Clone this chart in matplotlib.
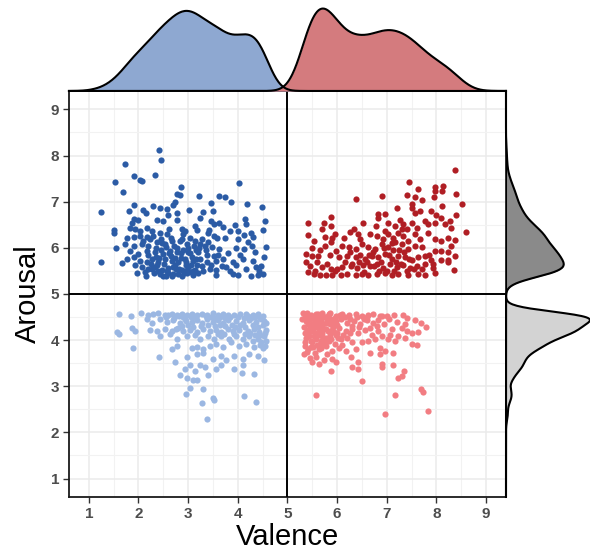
import numpy as np
import matplotlib.pyplot as plt
from matplotlib.ticker import MultipleLocator

plt.rcParams['font.family'] = ['Liberation Sans', 'DejaVu Sans']

# (valence, arousal) pairs, one list per quadrant
high_negative = [
    (2.41, 8.13), (2.45, 7.91), (1.72, 7.81), (2.33, 7.58), (1.90, 7.55), (2.03, 7.47), (2.07, 7.45),
    (1.53, 7.42), (1.69, 7.22), (4.02, 7.40), (2.85, 7.31), (2.77, 7.17), (2.83, 7.15), (3.21, 7.13),
    (3.63, 7.13), (3.75, 7.11), (3.87, 7.00), (3.47, 6.98), (4.18, 6.96), (4.48, 6.89), (1.25, 6.77),
    (1.90, 6.93), (1.80, 6.79), (2.73, 7.00), (2.70, 6.92), (2.30, 6.90), (2.43, 6.86), (2.58, 6.85),
    (2.10, 6.83), (2.15, 6.76), (3.02, 6.81), (3.30, 6.78), (3.50, 6.79), (2.59, 6.72), (2.77, 6.76),
    (1.90, 6.63), (2.00, 6.61), (1.87, 6.54), (2.37, 6.61), (2.50, 6.58), (2.77, 6.61), (3.23, 6.65),
    (3.13, 6.47), (3.45, 6.59), (3.53, 6.52), (3.62, 6.54), (4.15, 6.63), (4.17, 6.52), (4.55, 6.58),
    (1.50, 6.38), (1.50, 6.33), (1.83, 6.44), (1.93, 6.40), (2.03, 6.36), (2.17, 6.44), (2.27, 6.36),
    (2.43, 6.33), (2.57, 6.29), (2.87, 6.40), (2.93, 6.36), (2.90, 6.29), (3.18, 6.38), (3.40, 6.33),
    (3.42, 6.38), (3.59, 6.21), (3.75, 6.21), (3.85, 6.36), (4.00, 6.36), (4.00, 6.19), (4.13, 6.28),
    (4.27, 6.33), (4.30, 6.24), (4.50, 6.38), (1.77, 6.22), (1.90, 6.24), (2.03, 6.26), (2.17, 6.24),
    (2.23, 6.19), (1.73, 6.08), (1.90, 6.05), (2.07, 6.08), (2.20, 6.05), (2.37, 6.12), (2.53, 6.08),
    (2.67, 6.15), (2.83, 6.15), (2.97, 6.08), (3.13, 6.15), (3.23, 6.08), (3.33, 6.05), (3.40, 6.12),
    (1.55, 5.99), (3.63, 5.97), (3.97, 5.99), (4.13, 5.97), (4.29, 6.05), (4.57, 6.01), (1.83, 5.94),
    (2.00, 5.87), (2.17, 5.94), (2.33, 5.90), (2.50, 5.87), (2.63, 5.94), (2.77, 5.90), (2.90, 5.95),
    (3.03, 5.88), (3.20, 5.90), (3.37, 5.85), (3.53, 5.83), (1.25, 5.70), (1.67, 5.67), (1.77, 5.76),
    (1.90, 5.81), (2.03, 5.72), (2.17, 5.69), (2.27, 5.76), (2.40, 5.69), (2.53, 5.76), (2.67, 5.72),
    (2.80, 5.69), (2.93, 5.76), (3.10, 5.71), (3.23, 5.76), (3.37, 5.69), (3.57, 5.72), (3.70, 5.76),
    (3.90, 5.69), (4.10, 5.76), (4.30, 5.72), (4.52, 5.81), (1.93, 5.62), (2.07, 5.58), (2.20, 5.55),
    (2.33, 5.58), (2.47, 5.51), (2.60, 5.57), (2.73, 5.62), (2.87, 5.53), (3.00, 5.58), (3.13, 5.51),
    (3.27, 5.60), (3.43, 5.55), (3.57, 5.51), (3.77, 5.58), (3.97, 5.62), (4.17, 5.55), (4.37, 5.58),
    (4.47, 5.60), (1.97, 5.45), (2.13, 5.48), (2.43, 5.44), (2.50, 5.38), (2.70, 5.44), (2.80, 5.43),
    (2.97, 5.45), (3.10, 5.41), (3.57, 5.41), (3.90, 5.43), (4.00, 5.41), (4.27, 5.38), (4.40, 5.41),
    (4.50, 5.43), (2.25, 5.65), (2.35, 5.80), (2.45, 5.95), (2.55, 6.02), (2.60, 5.45), (2.65, 5.83),
    (2.72, 6.05), (2.75, 5.55), (2.85, 5.78), (2.88, 6.20), (2.95, 5.62), (3.00, 6.00), (3.05, 5.48),
    (3.08, 5.80), (3.15, 5.95), (3.18, 5.62), (3.28, 6.20), (3.30, 5.50), (3.35, 5.95), (3.45, 5.62),
    (3.48, 6.02), (3.52, 6.25), (3.60, 5.85), (3.68, 5.60), (3.80, 5.88), (3.85, 5.50), (4.05, 5.85),
    (4.20, 6.12), (4.35, 5.90), (4.42, 5.50), (2.20, 5.85), (2.10, 6.15), (2.30, 6.25), (2.62, 6.40),
    (2.40, 5.50), (2.15, 5.40), (3.95, 6.50), (3.70, 6.45), (2.32, 5.45), (2.38, 5.62), (2.42, 5.78),
    (2.48, 6.10), (2.52, 5.65), (2.58, 5.50), (2.62, 5.88), (2.66, 6.22), (2.70, 5.58), (2.74, 5.78),
    (2.78, 6.00), (2.82, 5.55), (2.86, 5.88), (2.92, 5.45), (2.96, 5.70), (3.00, 5.90), (3.04, 6.22),
    (3.06, 5.62), (3.10, 5.50), (3.12, 6.05), (3.16, 5.75), (3.20, 5.45), (3.22, 6.00), (2.55, 5.40),
    (2.68, 5.40), (2.88, 5.40), (2.98, 5.52), (2.45, 6.20), (2.35, 6.00), (2.28, 5.55),
]

high_positive = [
    (8.37, 7.68), (7.45, 7.42), (7.97, 7.32), (8.13, 7.35), (8.11, 7.23), (7.97, 7.23), (7.62, 7.27),
    (7.40, 7.15), (7.57, 7.11), (7.70, 7.04), (6.37, 7.06), (6.90, 7.13), (8.40, 7.17), (7.95, 7.10),
    (8.52, 6.95), (8.12, 6.91), (7.20, 6.86), (7.50, 6.86), (7.57, 6.76), (7.67, 6.79), (7.90, 6.79),
    (8.00, 6.72), (6.83, 6.73), (6.97, 6.73), (6.83, 6.65), (5.88, 6.66), (8.40, 6.72), (5.41, 6.53),
    (5.73, 6.53), (5.87, 6.47), (5.70, 6.40), (6.53, 6.54), (6.78, 6.47), (7.03, 6.54), (7.17, 6.47),
    (7.27, 6.61), (7.33, 6.51), (7.40, 6.40), (7.50, 6.54), (7.60, 6.44), (7.77, 6.58), (7.83, 6.51),
    (7.97, 6.54), (8.10, 6.65), (8.17, 6.51), (8.27, 6.59), (8.30, 6.44), (8.60, 6.35), (5.41, 6.28),
    (5.53, 6.15), (5.75, 6.24), (5.89, 6.21), (5.87, 6.12), (6.13, 6.22), (6.25, 6.35), (6.33, 6.40),
    (6.43, 6.29), (6.47, 6.19), (6.67, 6.29), (6.80, 6.26), (6.97, 6.37), (7.03, 6.29), (7.13, 6.22),
    (7.23, 6.33), (7.33, 6.26), (7.43, 6.15), (7.57, 6.29), (7.67, 6.19), (7.83, 6.33), (7.97, 6.19),
    (8.10, 6.15), (8.23, 6.22), (8.37, 6.17), (8.30, 6.05), (5.97, 5.94), (6.10, 6.05), (6.23, 6.01),
    (6.37, 5.97), (6.50, 6.08), (6.63, 6.01), (6.77, 5.97), (6.90, 6.08), (7.03, 6.01), (7.17, 6.12),
    (7.30, 6.08), (7.43, 5.97), (7.57, 6.05), (7.70, 6.01), (7.97, 5.94), (8.10, 5.94), (8.23, 5.90),
    (5.38, 5.87), (5.50, 5.83), (5.62, 5.83), (6.03, 5.80), (6.20, 5.83), (6.37, 5.80), (6.47, 5.85),
    (6.57, 5.76), (6.70, 5.83), (6.83, 5.80), (6.97, 5.87), (7.10, 5.76), (7.23, 5.83), (7.37, 5.80),
    (7.50, 5.73), (7.63, 5.80), (7.77, 5.83), (7.90, 5.73), (8.10, 5.73), (8.23, 5.73), (8.37, 5.83),
    (5.38, 5.69), (5.70, 5.58), (5.87, 5.55), (6.10, 5.58), (6.27, 5.60), (6.40, 5.57), (6.53, 5.62),
    (6.67, 5.60), (6.80, 5.65), (6.93, 5.57), (7.07, 5.64), (7.20, 5.58), (7.33, 5.62), (7.47, 5.57),
    (7.60, 5.60), (7.77, 5.64), (7.93, 5.65), (8.23, 5.69), (8.35, 5.53), (5.41, 5.48), (5.53, 5.44),
    (5.65, 5.42), (5.77, 5.41), (5.90, 5.41), (6.07, 5.41), (6.20, 5.44), (6.37, 5.41), (6.50, 5.44),
    (6.63, 5.41), (6.80, 5.43), (6.97, 5.45), (7.10, 5.41), (7.23, 5.44), (7.43, 5.42), (7.63, 5.44),
    (7.77, 5.41), (7.97, 5.45), (7.93, 5.57), (6.60, 5.70), (6.72, 5.90), (6.85, 5.50), (6.88, 5.70),
    (6.95, 6.00), (7.00, 5.50), (7.05, 5.85), (7.12, 5.95), (7.15, 5.50), (7.18, 5.70), (7.25, 5.95),
    (7.28, 5.65), (7.35, 5.90), (7.40, 5.50), (7.45, 5.75), (6.75, 5.60), (6.65, 5.85), (6.55, 5.48),
    (6.45, 5.70), (6.30, 5.65), (6.25, 5.90), (6.15, 5.70), (6.00, 5.55), (7.55, 5.55), (7.70, 5.55),
    (7.85, 5.85), (7.10, 6.10), (6.92, 6.20), (7.30, 6.40), (7.50, 6.95), (5.45, 5.60), (5.55, 5.50),
    (5.60, 5.70), (5.65, 5.95), (5.80, 5.65), (5.85, 5.85), (5.95, 5.50), (5.50, 6.00), (5.75, 6.05),
    (5.95, 6.30),
]

low_negative = [
    (1.60, 4.57), (1.85, 4.53), (2.05, 4.59), (2.20, 4.55), (2.30, 4.57), (2.40, 4.59), (2.53, 4.55),
    (2.67, 4.57), (2.77, 4.55), (2.87, 4.57), (2.97, 4.55), (3.07, 4.57), (3.17, 4.55), (3.27, 4.57),
    (3.37, 4.55), (3.50, 4.59), (3.60, 4.55), (3.70, 4.57), (3.80, 4.55), (4.17, 4.57), (4.30, 4.55),
    (4.40, 4.57), (4.50, 4.53), (2.17, 4.45), (2.27, 4.37), (2.43, 4.45), (2.57, 4.39), (2.70, 4.43),
    (2.83, 4.37), (2.93, 4.45), (3.07, 4.39), (3.17, 4.43), (3.27, 4.37), (3.37, 4.45), (3.50, 4.39),
    (3.60, 4.43), (3.70, 4.37), (3.80, 4.43), (3.97, 4.41), (4.10, 4.37), (4.23, 4.43), (4.37, 4.39),
    (4.47, 4.45), (4.57, 4.37), (1.87, 4.27), (1.93, 4.20), (1.57, 4.18), (1.60, 4.14), (2.23, 4.23),
    (2.37, 4.20), (2.53, 4.25), (2.67, 4.20), (2.80, 4.27), (2.90, 4.20), (3.03, 4.23), (3.17, 4.18),
    (3.30, 4.25), (3.43, 4.20), (3.57, 4.23), (3.67, 4.18), (3.80, 4.25), (3.90, 4.20), (4.03, 4.23),
    (4.20, 4.20), (4.33, 4.25), (4.43, 4.18), (4.57, 4.22), (2.43, 4.09), (2.63, 4.13), (2.77, 4.02),
    (2.97, 4.08), (3.13, 4.10), (3.23, 4.02), (3.40, 4.09), (3.53, 4.03), (3.67, 4.08), (3.83, 4.02),
    (3.97, 4.09), (4.10, 4.03), (4.23, 4.08), (4.40, 4.02), (4.53, 4.09), (4.57, 3.98), (1.88, 3.82),
    (2.67, 3.81), (2.77, 3.88), (3.07, 3.82), (3.17, 3.84), (3.30, 3.81), (3.43, 3.88), (3.57, 3.91),
    (3.70, 3.84), (3.87, 3.95), (4.03, 3.88), (4.17, 3.91), (4.33, 3.84), (4.47, 3.95), (4.50, 3.82),
    (2.42, 3.63), (2.73, 3.52), (2.97, 3.63), (3.17, 3.70), (3.30, 3.72), (3.50, 3.59), (3.67, 3.66),
    (3.77, 3.56), (3.93, 3.66), (4.10, 3.59), (4.23, 3.70), (4.40, 3.66), (4.53, 3.56), (2.93, 3.38),
    (3.03, 3.45), (3.13, 3.34), (3.23, 3.46), (3.33, 3.41), (3.57, 3.38), (3.67, 3.45), (3.93, 3.38),
    (4.10, 3.45), (2.83, 3.25), (2.97, 3.18), (3.10, 3.13), (3.17, 3.13), (3.40, 3.24), (4.09, 3.29),
    (4.33, 3.27), (3.03, 2.97), (3.30, 2.94), (2.95, 2.83), (3.50, 2.75), (3.53, 2.70), (3.27, 2.63),
    (4.13, 2.78), (4.37, 2.65), (3.37, 2.30), (3.45, 4.50), (3.55, 4.48), (3.65, 4.50), (3.75, 4.48),
    (3.85, 4.50), (3.92, 4.55), (4.00, 4.50), (4.05, 4.57), (4.12, 4.48), (4.20, 4.52), (4.27, 4.48),
    (4.35, 4.50), (4.45, 4.48), (4.52, 4.42), (3.40, 4.32), (3.55, 4.30), (3.65, 4.32), (3.75, 4.30),
    (3.88, 4.32), (3.95, 4.28), (4.05, 4.33), (4.15, 4.28), (4.30, 4.32), (4.40, 4.28), (4.50, 4.32),
    (4.55, 4.15), (4.45, 4.10), (4.35, 4.12), (4.25, 4.15), (4.15, 4.13), (3.72, 4.13), (3.60, 4.13),
    (3.92, 4.13), (4.45, 3.90), (4.30, 3.98), (4.55, 3.88), (3.35, 4.52), (3.12, 4.50), (2.90, 4.50),
    (3.00, 4.32), (3.25, 4.30), (2.55, 4.50), (2.60, 4.55), (2.72, 4.48), (2.82, 4.52), (2.95, 4.42),
    (3.05, 4.50), (3.10, 4.28), (2.88, 4.30), (2.75, 4.25),
]

low_positive = [
    (5.43, 4.53), (5.57, 4.57), (5.70, 4.55), (5.83, 4.57), (5.97, 4.53), (6.10, 4.57), (6.23, 4.55),
    (6.37, 4.57), (6.50, 4.53), (6.63, 4.55), (6.73, 4.57), (6.87, 4.52), (7.00, 4.52), (7.15, 4.55),
    (7.33, 4.55), (7.40, 4.48), (5.40, 4.41), (5.53, 4.45), (5.67, 4.37), (5.80, 4.43), (5.93, 4.39),
    (6.07, 4.45), (6.20, 4.37), (6.33, 4.41), (6.47, 4.36), (6.60, 4.43), (6.73, 4.37), (6.83, 4.43),
    (6.80, 4.30), (7.37, 4.34), (7.57, 4.43), (7.69, 4.37), (7.79, 4.29), (5.40, 4.23), (5.50, 4.27),
    (5.63, 4.20), (5.77, 4.25), (5.90, 4.22), (6.03, 4.27), (6.17, 4.20), (6.30, 4.25), (6.43, 4.16),
    (6.57, 4.23), (6.67, 4.27), (6.83, 4.20), (7.07, 4.10), (7.11, 4.25), (7.30, 4.27), (7.40, 4.20),
    (7.63, 4.18), (7.50, 4.16), (5.43, 4.09), (5.57, 4.02), (5.70, 4.08), (5.83, 3.98), (5.97, 4.10),
    (6.07, 4.02), (6.20, 4.05), (6.30, 3.96), (6.50, 3.95), (6.63, 3.98), (6.77, 4.02), (6.90, 4.08),
    (7.03, 4.03), (7.17, 3.98), (7.23, 4.08), (7.37, 4.05), (7.50, 3.91), (7.60, 3.89), (5.47, 3.84),
    (5.63, 3.81), (5.77, 3.88), (5.90, 3.77), (6.03, 3.82), (6.17, 3.77), (6.37, 3.81), (6.67, 3.73),
    (6.87, 3.82), (6.97, 3.77), (7.13, 3.73), (6.87, 3.70), (5.57, 3.63), (5.50, 3.52), (5.63, 3.49),
    (5.73, 3.56), (5.90, 3.59), (5.97, 3.52), (6.27, 3.63), (6.43, 3.52), (6.90, 3.49), (7.13, 3.45),
    (6.30, 3.41), (6.43, 3.38), (5.87, 3.34), (6.90, 3.41), (7.35, 3.32), (7.30, 3.22), (7.23, 3.17),
    (6.50, 3.11), (7.69, 2.95), (7.73, 2.87), (5.57, 2.81), (7.17, 2.80), (7.83, 2.47), (6.97, 2.40),
    (5.35, 4.50), (5.45, 4.45), (5.50, 4.35), (5.60, 4.48), (5.65, 4.30), (5.75, 4.50), (5.85, 4.35),
    (5.95, 4.48), (6.00, 4.32), (6.15, 4.50), (6.25, 4.45), (6.30, 4.30), (6.40, 4.50), (6.55, 4.46),
    (5.35, 4.15), (5.45, 4.30), (5.55, 4.15), (5.70, 4.15), (5.85, 4.12), (6.00, 4.15), (6.12, 4.12),
    (6.25, 4.15), (5.35, 3.95), (5.50, 3.95), (5.65, 3.92), (5.75, 4.00), (5.95, 3.92), (6.10, 3.90),
    (5.40, 3.75), (5.55, 3.72), (5.80, 3.70), (6.90, 4.52), (6.95, 4.35), (7.05, 4.45), (7.20, 4.40),
    (6.70, 4.10), (6.60, 4.50), (6.45, 4.28), (5.32, 4.58), (5.38, 4.42), (5.42, 4.35), (5.48, 4.55),
    (5.52, 4.20), (5.58, 4.40), (5.62, 4.56), (5.68, 4.45), (5.72, 4.25), (5.78, 4.38), (5.82, 4.52),
    (5.88, 4.45), (5.92, 4.28), (5.33, 4.28), (5.37, 4.05), (5.44, 4.18), (5.47, 3.98), (5.53, 4.08),
    (5.58, 4.28), (5.63, 4.12), (5.67, 3.98), (5.72, 4.35), (5.78, 4.05), (5.82, 4.20), (5.88, 4.02),
    (5.93, 4.18), (5.36, 3.88), (5.42, 3.80), (5.52, 3.85), (5.60, 3.90), (5.68, 3.82), (5.75, 3.92),
    (5.30, 4.45), (5.40, 4.58), (5.55, 4.50), (5.65, 4.40), (5.70, 4.58), (5.85, 4.58), (5.90, 4.38),
    (5.98, 4.42), (6.05, 4.55), (6.02, 4.05), (5.33, 3.70), (5.46, 3.62), (5.38, 4.48),
]

ticks = [1, 2, 3, 4, 5, 6, 7, 8, 9]


def density(values, grid):
    # gaussian kernel density with R's default (nrd0) bandwidth
    v = np.asarray(values)
    n = len(v)
    iqr = np.percentile(v, 75) - np.percentile(v, 25)
    bw = 0.9 * min(v.std(ddof=1), iqr / 1.34) * n ** -0.2
    z = (grid[:, None] - v[None, :]) / bw
    return np.exp(-0.5 * z ** 2).sum(axis=1) / (n * bw * np.sqrt(2 * np.pi))


hn = np.array(high_negative)
hp = np.array(high_positive)
ln = np.array(low_negative)
lp = np.array(low_positive)

fig = plt.figure(figsize=(5.9, 5.53), dpi=100)
ax = fig.add_axes([0.1169, 0.1013, 0.7407, 0.7342])
ax_top = fig.add_axes([0.1169, 0.8355, 0.7407, 0.158])
ax_right = fig.add_axes([0.8576, 0.1013, 0.1424, 0.7342])

ax.scatter(hn[:, 0], hn[:, 1], s=20, color='#2B5BA5', lw=0, zorder=2)
ax.scatter(hp[:, 0], hp[:, 1], s=20, color='#B01E24', lw=0, zorder=2)
ax.scatter(ln[:, 0], ln[:, 1], s=20, color='#9BB7E2', lw=0, zorder=2)
ax.scatter(lp[:, 0], lp[:, 1], s=20, color='#F27D82', lw=0, zorder=2)
ax.axvline(5, color='black', lw=1.4, zorder=3)
ax.axhline(5, color='black', lw=1.4, zorder=3)

ax.set_xlim(0.6, 9.4)
ax.set_ylim(0.6, 9.4)
ax.set_xticks(ticks)
ax.set_yticks(ticks)
ax.xaxis.set_minor_locator(MultipleLocator(0.5))
ax.yaxis.set_minor_locator(MultipleLocator(0.5))
ax.grid(which='major', color='#EBEBEB', lw=1.1, zorder=0)
ax.grid(which='minor', color='#F2F2F2', lw=0.8, zorder=0)
ax.set_axisbelow(True)
ax.tick_params(which='major', length=4, width=1, color='#333333',
               labelcolor='#4D4D4D', labelsize=11, pad=3)
ax.tick_params(which='minor', length=0)
for lab in ax.get_xticklabels() + ax.get_yticklabels():
    lab.set_fontweight('bold')
for sp in ax.spines.values():
    sp.set_color('#1A1A1A')
    sp.set_linewidth(1.3)
ax.set_xlabel('Valence', fontsize=21, labelpad=2)
ax.set_ylabel('Arousal', fontsize=21, labelpad=6)

# marginal densities
grid = np.linspace(0.6, 9.4, 600)
d_neg = density(np.concatenate([hn[:, 0], ln[:, 0]]), grid)
d_pos = density(np.concatenate([hp[:, 0], lp[:, 0]]), grid)
d_high = density(np.concatenate([hn[:, 1], hp[:, 1]]), grid)
d_low = density(np.concatenate([ln[:, 1], lp[:, 1]]), grid)

ax_top.fill_between(grid, 0, d_neg, color='#8EA8D1', lw=0)
ax_top.plot(grid, d_neg, color='black', lw=1.5, clip_on=False)
ax_top.fill_between(grid, 0, d_pos, color='#D47B7E', lw=0)
ax_top.plot(grid, d_pos, color='black', lw=1.5, clip_on=False)
ax_top.set_xlim(0.6, 9.4)
ax_top.set_ylim(0, max(d_neg.max(), d_pos.max()) * 1.06)
ax_top.axis('off')

ax_right.fill_betweenx(grid, 0, d_high, color='#8A8A8A', lw=0)
ax_right.plot(d_high, grid, color='black', lw=1.5, clip_on=False)
ax_right.fill_betweenx(grid, 0, d_low, color='#D3D3D3', lw=0)
ax_right.plot(d_low, grid, color='black', lw=1.5)
ax_right.set_ylim(0.6, 9.4)
ax_right.set_xlim(0, max(d_high.max(), d_low.max()))
ax_right.axis('off')

fig.savefig('out.png', dpi=100)
